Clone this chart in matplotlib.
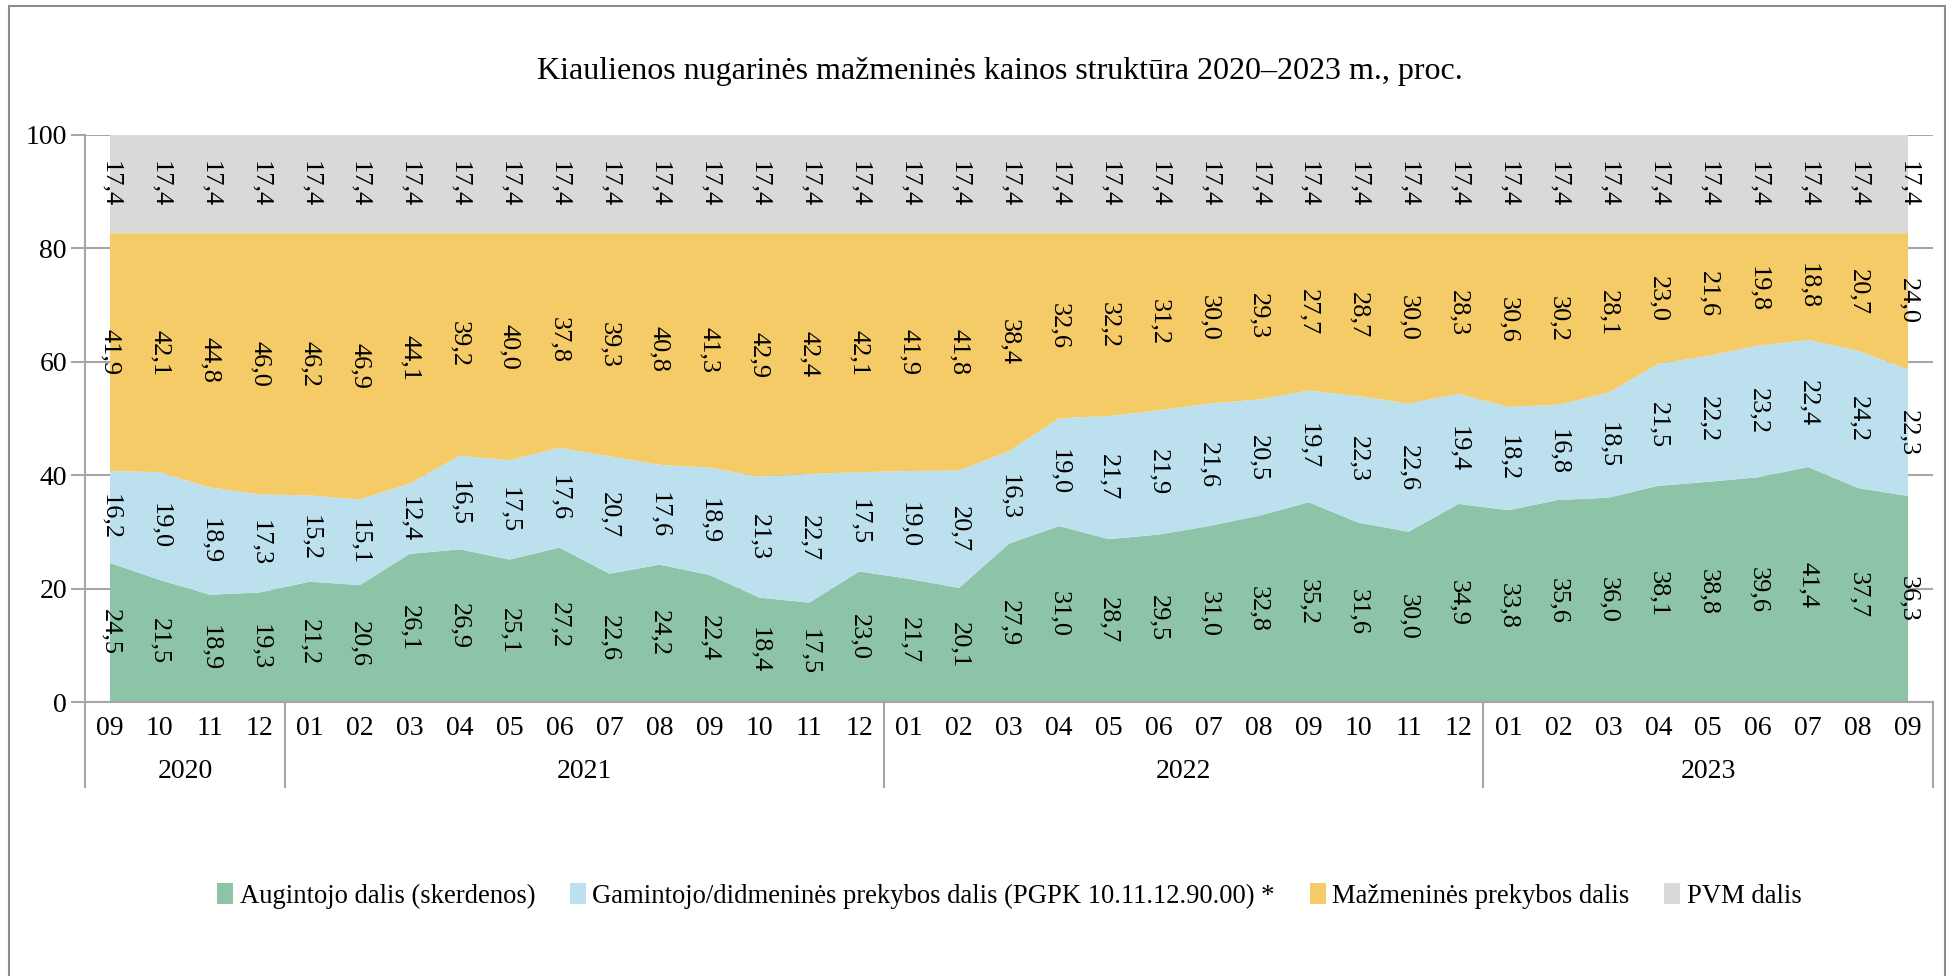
import matplotlib.pyplot as plt
import matplotlib.transforms as mtransforms
from matplotlib.patches import Rectangle, Patch
import numpy as np

plt.rcParams['font.family'] = ['Liberation Serif', 'DejaVu Serif']

# Data
years = ['2020', '2021', '2022', '2023']
months = (['09', '10', '11', '12']
          + ['%02d' % m for m in range(1, 13)]
          + ['%02d' % m for m in range(1, 13)]
          + ['%02d' % m for m in range(1, 10)])
year_counts = [4, 12, 12, 9]

augintojo = [24.5, 21.5, 18.9, 19.3,
             21.2, 20.6, 26.1, 26.9, 25.1, 27.2, 22.6, 24.2, 22.4, 18.4, 17.5, 23.0,
             21.7, 20.1, 27.9, 31.0, 28.7, 29.5, 31.0, 32.8, 35.2, 31.6, 30.0, 34.9,
             33.8, 35.6, 36.0, 38.1, 38.8, 39.6, 41.4, 37.7, 36.3]
gamintojo = [16.2, 19.0, 18.9, 17.3,
             15.2, 15.1, 12.4, 16.5, 17.5, 17.6, 20.7, 17.6, 18.9, 21.3, 22.7, 17.5,
             19.0, 20.7, 16.3, 19.0, 21.7, 21.9, 21.6, 20.5, 19.7, 22.3, 22.6, 19.4,
             18.2, 16.8, 18.5, 21.5, 22.2, 23.2, 22.4, 24.2, 22.3]
mazmenine = [41.9, 42.1, 44.8, 46.0,
             46.2, 46.9, 44.1, 39.2, 40.0, 37.8, 39.3, 40.8, 41.3, 42.9, 42.4, 42.1,
             41.9, 41.8, 38.4, 32.6, 32.2, 31.2, 30.0, 29.3, 27.7, 28.7, 30.0, 28.3,
             30.6, 30.2, 28.1, 23.0, 21.6, 19.8, 18.8, 20.7, 24.0]
pvm = [17.4] * 37

series = [augintojo, gamintojo, mazmenine, pvm]
labels = ['Augintojo dalis (skerdenos)',
          'Gamintojo/didmeninės prekybos dalis (PGPK 10.11.12.90.00) *',
          'Mažmeninės prekybos dalis', 'PVM dalis']
colors = ['#8DC3A7', '#BDE0EF', '#F4CB66', '#D9D9D9']
grid_col = '#A6A6A6'

fig = plt.figure(figsize=(19.52, 9.76), dpi=100)
ax = fig.add_axes([85 / 1952, 1 - 702 / 976, (1933 - 85) / 1952, (702 - 134.5) / 976])

x = np.arange(len(months))
ax.stackplot(x, *series, colors=colors, zorder=2)

# data labels in the middle of each band
bottom = np.zeros(len(x))
for vals in series:
    vals = np.array(vals)
    for xi, b, v in zip(x, bottom, vals):
        ax.text(xi, b + v / 2, f'{v:.1f}'.replace('.', ','), rotation=-90,
                ha='center', va='center', fontsize=19, zorder=3)
    bottom = bottom + vals

ax.set_xlim(-0.5, len(x) - 0.5)
ax.set_ylim(0, 100)
ax.set_yticks([0, 20, 40, 60, 80, 100])
ax.yaxis.grid(True, color=grid_col, lw=1.5, zorder=0)
ax.set_axisbelow(True)
ax.tick_params(axis='y', labelsize=20, length=10, width=1.5, color=grid_col, pad=3)
ax.set_xticks([])
for s in ['top', 'right']:
    ax.spines[s].set_visible(False)
for s in ['left', 'bottom']:
    ax.spines[s].set_color(grid_col)
    ax.spines[s].set_linewidth(1.5)

# hierarchical x axis
trans = mtransforms.blended_transform_factory(ax.transData, ax.transAxes)
for xi, m in zip(x, months):
    ax.text(xi, -0.046, m, transform=trans, ha='center', va='center', fontsize=20)
start = -0.5
ax.plot([start, start], [0, -0.15], transform=trans, color=grid_col, lw=1.5, clip_on=False)
for yr, n in zip(years, year_counts):
    end = start + n
    ax.plot([end, end], [0, -0.15], transform=trans, color=grid_col, lw=1.5, clip_on=False)
    ax.text((start + end) / 2, -0.123, yr, transform=trans, ha='center', va='center', fontsize=20)
    start = end

fig.text(0.512, 0.927, 'Kiaulienos nugarinės mažmeninės kainos struktūra 2020–2023 m., proc.',
         ha='center', va='center', fontsize=23)

handles = [Patch(facecolor=c, edgecolor='none') for c in colors]
fig.legend(handles, labels, loc='center', bbox_to_anchor=(0.517, 0.082), ncol=4,
           frameon=False, fontsize=19.2, handlelength=0.6, handleheight=0.8,
           handletextpad=0.25, columnspacing=1.3)

fig.add_artist(Rectangle((9 / 1952, -0.02), (1945 - 9) / 1952, 1 - 6 / 976 + 0.02,
                         transform=fig.transFigure, fill=False, edgecolor='#8C8C8C', lw=1.5))

fig.savefig('out.png', dpi=100)
